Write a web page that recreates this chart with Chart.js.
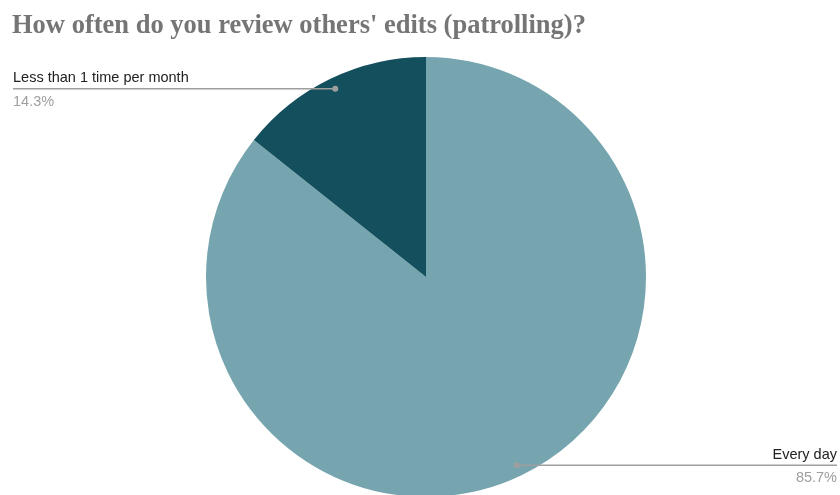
<!DOCTYPE html>
<html>
<head>
<meta charset="utf-8">
<script src="https://cdn.jsdelivr.net/npm/chart.js@4"></script>
<style>
  html, body { margin: 0; padding: 0; background: #fff; overflow: hidden; }
  #wrap { width: 840px; height: 495px; position: relative; overflow: hidden; }
  #c { display: block; }
</style>
</head>
<body>
<div id="wrap"><canvas id="c" width="840" height="500"></canvas></div>
<script>
const chartTitle = "How often do you review others' edits (patrolling)?";
const categories = ["Every day", "Less than 1 time per month"];
const values = [85.7, 14.3];
const colors = ["#76a5af", "#134f5c"];

const labelPlugin = {
  id: 'sheetLabels',
  afterDraw(chart) {
    const ctx = chart.ctx;
    ctx.save();
    // title
    ctx.font = "bold 26.5px 'Liberation Serif', serif";
    ctx.fillStyle = "#757575";
    ctx.textAlign = "left";
    ctx.textBaseline = "alphabetic";
    ctx.fillText(chartTitle, 12, 33);

    const meta = chart.getDatasetMeta(0);
    const total = values.reduce((a, b) => a + b, 0);
    meta.data.forEach((arc, i) => {
      const mid = (arc.startAngle + arc.endAngle) / 2;
      const r = arc.outerRadius * 0.95;
      const px = arc.x + Math.cos(mid) * r;
      const py = arc.y + Math.sin(mid) * r;
      const left = px < arc.x;
      const endX = left ? 13 : 837;
      ctx.strokeStyle = "#9e9e9e";
      ctx.lineWidth = 1.5;
      ctx.beginPath();
      ctx.moveTo(px, py);
      ctx.lineTo(endX, py);
      ctx.stroke();
      ctx.fillStyle = "#9e9e9e";
      ctx.beginPath();
      ctx.arc(px, py, 3, 0, Math.PI * 2);
      ctx.fill();
      ctx.textAlign = left ? "left" : "right";
      ctx.font = "14.5px 'Liberation Sans', Arial, sans-serif";
      ctx.fillStyle = "#212121";
      ctx.fillText(categories[i], endX, py - 6.5);
      ctx.fillStyle = "#9e9e9e";
      ctx.fillText((values[i] / total * 100).toFixed(1) + "%", endX, py + 17);
    });
    ctx.restore();
  }
};

new Chart(document.getElementById('c'), {
  type: 'pie',
  data: {
    labels: categories,
    datasets: [{
      data: values,
      backgroundColor: colors,
      borderWidth: 0,
      hoverOffset: 0
    }]
  },
  options: {
    responsive: false,
    animation: false,
    rotation: 0,
    layout: { padding: { top: 57, bottom: 3, left: 206, right: 194 } },
    plugins: {
      legend: { display: false },
      tooltip: { enabled: false },
      title: { display: false }
    }
  },
  plugins: [labelPlugin]
});
</script>
</body>
</html>
